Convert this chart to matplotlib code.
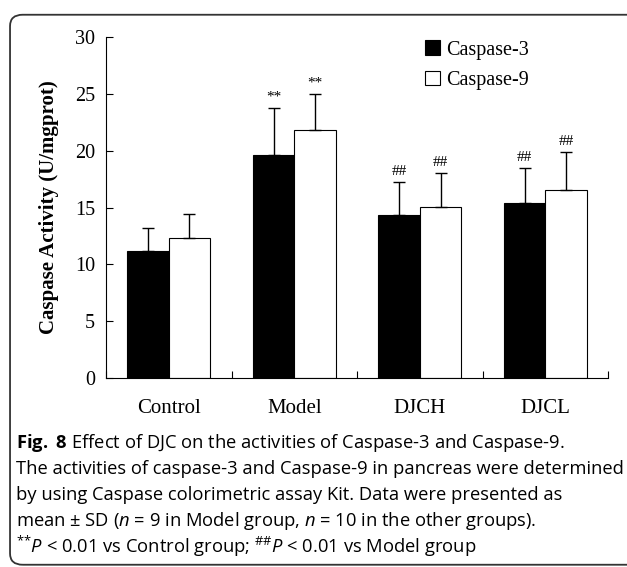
import matplotlib
matplotlib.use('Agg')
import matplotlib.pyplot as plt
import numpy as np
from matplotlib.patches import FancyBboxPatch

# values (U/mgprot), mean and upper SD
groups = ['Control', 'Model', 'DJCH', 'DJCL']
casp3 = [11.2, 19.6, 14.3, 15.4]
casp3_sd = [2.0, 4.15, 2.9, 3.05]
casp9 = [12.35, 21.8, 15.05, 16.5]
casp9_sd = [2.05, 3.2, 2.95, 3.35]
marks = ['', '**', '##', '##']

caption = [
    r"$\mathbf{Fig.\ 8}$ Effect of DJC on the activities of Caspase-3 and Caspase-9.",
    "The activities of caspase-3 and Caspase-9 in pancreas were determined",
    "by using Caspase colorimetric assay Kit. Data were presented as",
    r"mean ± SD ($n$ = 9 in Model group, $n$ = 10 in the other groups).",
    r"$^{{*}{*}}P$ < 0.01 vs Control group; $^{\#\#}P$ < 0.01 vs Model group",
]

plt.rcParams['font.family'] = ['Liberation Serif', 'DejaVu Serif']
plt.rcParams['mathtext.fontset'] = 'custom'
plt.rcParams['mathtext.rm'] = 'Open Sans'
plt.rcParams['mathtext.it'] = 'Open Sans:italic'
plt.rcParams['mathtext.bf'] = 'Open Sans:bold'

fig = plt.figure(figsize=(6.27, 5.67), dpi=100)
ax = fig.add_axes([0.169, 0.333, 0.801, 0.602])

x = np.arange(len(groups))
w = 0.33
ekw = dict(elinewidth=1, capthick=1, ecolor='black')
ax.bar(x - w / 2, casp3, w, color='black', edgecolor='black', lw=0.8,
       yerr=[np.zeros(len(x)), casp3_sd], capsize=4, error_kw=ekw, label='Caspase-3')
ax.bar(x + w / 2, casp9, w, color='white', edgecolor='black', lw=0.8,
       yerr=[np.zeros(len(x)), casp9_sd], capsize=4, error_kw=ekw, label='Caspase-9')

for i in range(len(x)):
    if marks[i]:
        ax.annotate(marks[i], (x[i] - w / 2, casp3[i] + casp3_sd[i]), xytext=(0, 3),
                    textcoords='offset points', ha='center', va='bottom', fontsize=11)
        ax.annotate(marks[i], (x[i] + w / 2, casp9[i] + casp9_sd[i]), xytext=(0, 3),
                    textcoords='offset points', ha='center', va='bottom', fontsize=11)

ax.set_xlim(-0.5, 3.5)
ax.set_ylim(0, 30)
ax.spines['top'].set_visible(False)
ax.spines['right'].set_visible(False)
ax.set_xticks(np.arange(-0.5, 4, 1))
ax.set_xticklabels([])
ax.tick_params(axis='x', which='major', direction='in', length=5)
ax.set_xticks(x, minor=True)
ax.set_xticklabels(groups, minor=True)
ax.tick_params(axis='x', which='minor', length=0, pad=15, labelsize=15)
ax.set_yticks(range(0, 31, 5))
ax.tick_params(axis='y', direction='in', length=5, pad=8, labelsize=14.5)
ax.set_ylabel('Caspase Activity (U/mgprot)', fontsize=15, fontweight='bold', labelpad=11)

ax.legend(loc='upper left', bbox_to_anchor=(0.635, 0.99), frameon=False,
          prop={'size': 14.5}, handlelength=0.75, handleheight=0.75,
          handletextpad=0.3, labelspacing=0.55, borderaxespad=0, borderpad=0)

# rounded frame around the whole panel
frame = FancyBboxPatch((0.016, 0.004), 1.05, 0.97, boxstyle='round,pad=0,rounding_size=0.02',
                       transform=fig.transFigure, fill=False, ec='#333333', lw=1.3, clip_on=False)
fig.patches.append(frame)

# caption, sized so the longest line fills the width
ys = [443, 469, 495, 521, 546]
texts = [fig.text(16 / 627, 1 - y / 567, line, ha='left', va='center',
                  family='Open Sans', fontsize=12) for line, y in zip(caption, ys)]
r = fig.canvas.get_renderer()
wpx = texts[1].get_window_extent(r).width
size = 12 * 604 / wpx
for t in texts:
    t.set_fontsize(size)

fig.savefig('out.png', dpi=100, facecolor='white')
